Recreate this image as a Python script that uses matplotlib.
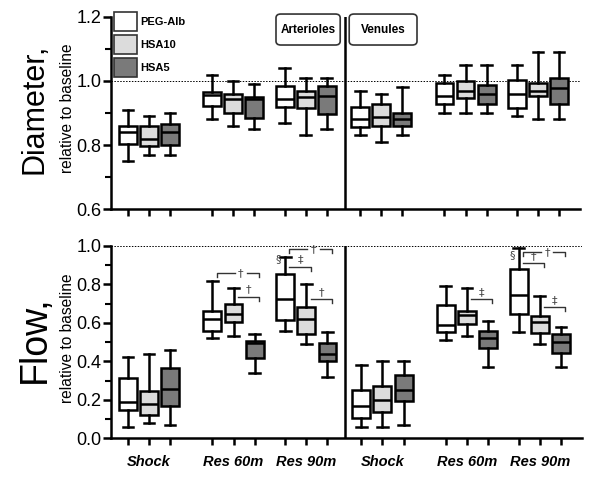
import matplotlib
matplotlib.use('Agg')
import matplotlib.pyplot as plt
from matplotlib.patches import Patch, FancyBboxPatch
from matplotlib.ticker import MultipleLocator, FormatStrFormatter
import matplotlib.transforms as mtransforms

plt.rcParams['font.family'] = ['Liberation Sans', 'DejaVu Sans']

# data: order = arterioles (Shock, Res 60m, Res 90m), venules (Shock, Res 60m, Res 90m),
# each with PEG-Alb, HSA10, HSA5
groups = ['Shock', 'Res 60m', 'Res 90m', 'Shock', 'Res 60m', 'Res 90m']
treatments = ['PEG-Alb', 'HSA10', 'HSA5']
colors = ['white', '#dcdcdc', '#7a7a7a']

diam_hi = [0.91, 0.89, 0.90, 1.02, 1.00, 0.99, 1.04, 1.01, 1.01,
           0.97, 0.96, 0.98, 1.02, 1.05, 1.05, 1.05, 1.09, 1.09]
diam_q3 = [0.86, 0.86, 0.865, 0.967, 0.96, 0.951, 0.984, 0.97, 0.984,
           0.92, 0.928, 0.90, 0.993, 1.00, 0.988, 1.003, 0.993, 1.01]
diam_med = [0.84, 0.82, 0.84, 0.956, 0.943, 0.943, 0.943, 0.95, 0.954,
            0.881, 0.888, 0.881, 0.954, 0.97, 0.958, 0.958, 0.97, 0.977]
diam_q1 = [0.803, 0.798, 0.80, 0.923, 0.90, 0.883, 0.918, 0.915, 0.897,
           0.857, 0.86, 0.86, 0.928, 0.946, 0.928, 0.915, 0.954, 0.928]
diam_lo = [0.75, 0.77, 0.77, 0.88, 0.86, 0.85, 0.87, 0.83, 0.85,
           0.83, 0.81, 0.83, 0.90, 0.90, 0.90, 0.89, 0.88, 0.88]

flow_hi = [0.42, 0.44, 0.46, 0.82, 0.78, 0.54, 0.94, 0.80, 0.55,
           0.38, 0.40, 0.40, 0.79, 0.78, 0.61, 0.99, 0.74, 0.58]
flow_q3 = [0.315, 0.248, 0.367, 0.664, 0.698, 0.508, 0.854, 0.684, 0.497,
           0.251, 0.274, 0.329, 0.693, 0.664, 0.56, 0.879, 0.638, 0.541]
flow_med = [0.187, 0.178, 0.256, 0.619, 0.646, 0.494, 0.723, 0.619, 0.438,
            0.17, 0.199, 0.251, 0.589, 0.641, 0.52, 0.745, 0.603, 0.499]
flow_q1 = [0.147, 0.121, 0.168, 0.558, 0.606, 0.419, 0.615, 0.542, 0.402,
           0.107, 0.138, 0.196, 0.554, 0.594, 0.468, 0.646, 0.546, 0.445]
flow_lo = [0.06, 0.08, 0.07, 0.52, 0.53, 0.34, 0.56, 0.49, 0.32,
           0.06, 0.06, 0.07, 0.51, 0.53, 0.37, 0.55, 0.49, 0.37]

# significance brackets on flow panel: (group, from box, to box, level, symbol)
brackets = [(1, 0, 2, 0.858, '†'), (1, 1, 2, 0.736, '†'),
            (2, 0, 2, 0.983, '†'), (2, 0, 1, 0.892, '‡'), (2, 1, 2, 0.723, '†'),
            (4, 1, 2, 0.723, '‡'),
            (5, 0, 2, 0.967, '†'), (5, 0, 1, 0.91, '†'), (5, 1, 2, 0.681, '‡')]
section_marks = [(2, 0.933), (5, 0.953)]

centers = [1.8, 5.8, 9.25, 12.85, 16.85, 20.3]
divider = 11.1
positions = [c + d for c in centers for d in (-1.0, 0.0, 1.0)]

fig = plt.figure(figsize=(6, 4.84), dpi=100)
ax1 = fig.add_axes([0.185, 0.568, 0.782, 0.397])
ax2 = fig.add_axes([0.185, 0.0944, 0.785, 0.3976])


def draw_boxes(ax, lo, q1, med, q3, hi):
    stats = []
    for i in range(len(med)):
        stats.append(dict(whislo=lo[i], q1=q1[i], med=med[i], q3=q3[i],
                          whishi=hi[i], fliers=[]))
    bp = ax.bxp(stats, positions=positions, widths=0.85, capwidths=0.5,
                patch_artist=True, showfliers=False,
                boxprops=dict(linewidth=1.8, edgecolor='black'),
                medianprops=dict(color='black', linewidth=1.8),
                whiskerprops=dict(color='black', linewidth=1.8),
                capprops=dict(color='black', linewidth=1.8))
    for i, b in enumerate(bp['boxes']):
        b.set_facecolor(colors[i % 3])
        b.set_zorder(3)
    for k in ('medians', 'whiskers', 'caps'):
        for l in bp[k]:
            l.set_zorder(3)


def style_axis(ax):
    for s in ('top', 'right'):
        ax.spines[s].set_visible(False)
    for s in ('left', 'bottom'):
        ax.spines[s].set_linewidth(1.8)
    ax.set_xlim(0, 22.3)
    ax.set_xticks(positions)
    ax.set_xticklabels([''] * len(positions))
    ax.yaxis.set_minor_locator(MultipleLocator(0.1))
    ax.yaxis.set_major_locator(MultipleLocator(0.2))
    ax.yaxis.set_major_formatter(FormatStrFormatter('%.1f'))
    ax.tick_params(axis='x', length=5, width=1.8, direction='out')
    ax.tick_params(axis='y', which='major', length=6, width=1.8, labelsize=13, pad=1)
    ax.tick_params(axis='y', which='minor', length=4, width=1.5)
    ax.axvline(divider, color='black', lw=1.8, zorder=4)
    ax.axhline(1.0, color='black', lw=0.7, ls=(0, (1.5, 1.5)), zorder=1)


draw_boxes(ax1, diam_lo, diam_q1, diam_med, diam_q3, diam_hi)
style_axis(ax1)
ax1.set_ylim(0.6, 1.2)

draw_boxes(ax2, flow_lo, flow_q1, flow_med, flow_q3, flow_hi)
style_axis(ax2)
ax2.set_ylim(0.0, 1.0)

# brackets
bc = '#333333'
drop = 0.022
for g, a, b, y, sym in brackets:
    x1 = positions[g * 3 + a] + 0.2
    x2 = positions[g * 3 + b] + 0.2
    if b - a == 2:
        xm = (x1 + x2) / 2 + 0.15
        ax2.plot([x1, x1, xm - 0.3], [y - drop, y, y], color=bc, lw=1.0, zorder=5)
        ax2.plot([xm + 0.3, x2, x2], [y, y, y - drop], color=bc, lw=1.0, zorder=5)
        ax2.text(xm, y, sym, ha='center', va='center', fontsize=8, color='#444444',
                 family='DejaVu Sans')
    else:
        ax2.plot([x1, x2, x2], [y, y, y - drop], color=bc, lw=1.0, zorder=5)
        ax2.text((x1 + x2) / 2, y + 0.012, sym, ha='center', va='bottom', fontsize=8,
                 color='#444444', family='DejaVu Sans')
for g, y in section_marks:
    ax2.text(positions[g * 3] - 0.32, y, '§', ha='center', va='center', fontsize=8,
             color='#444444', family='DejaVu Sans')

# category labels
trans = mtransforms.blended_transform_factory(ax2.transData, ax2.transAxes)
for c, g in zip(centers, groups):
    ax2.text(c, -0.125, g, transform=trans, ha='center', va='center',
             fontsize=10.5, fontweight='bold', fontstyle='italic')

# y labels
fig.text(0.057, 0.776, 'Diameter,', rotation=90, ha='center', va='center', fontsize=22)
fig.text(0.112, 0.777, 'relative to baseline', rotation=90, ha='center', va='center', fontsize=11.2)
fig.text(0.058, 0.30, 'Flow,', rotation=90, ha='center', va='center', fontsize=27)
fig.text(0.112, 0.302, 'relative to baseline', rotation=90, ha='center', va='center', fontsize=11.2)

# legend
handles = [Patch(facecolor=c, edgecolor='#333333', linewidth=1.2) for c in colors]
fig.legend(handles, treatments, loc='upper left', bbox_to_anchor=(114 / 600, 1 - 12 / 484),
           bbox_transform=fig.transFigure, frameon=False, borderpad=0, borderaxespad=0,
           handlelength=2.05, handleheight=2.26, labelspacing=0.36, handletextpad=0.35,
           prop=dict(weight='bold', size=8))

# section boxes
for x0, w, label in [(0.46, 0.107, 'Arterioles'), (0.582, 0.113, 'Venules')]:
    fig.patches.append(FancyBboxPatch((x0, 0.907), w, 0.064,
                                      boxstyle='round,pad=0,rounding_size=0.008',
                                      transform=fig.transFigure, facecolor='white',
                                      edgecolor='#333333', linewidth=1.2))
    fig.text(x0 + w / 2, 0.939, label, ha='center', va='center', fontsize=8.5, fontweight='bold')

plt.savefig('out.png', dpi=100)
